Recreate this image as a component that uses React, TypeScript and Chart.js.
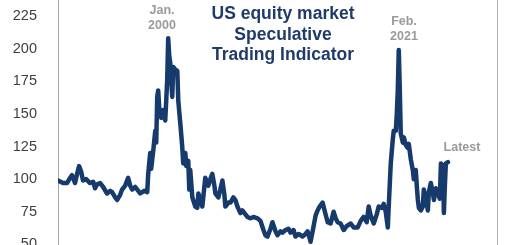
import React, { useEffect, useRef } from "react";
import Chart from "chart.js/auto";

// Decimal years and index values
const years: number[] = [
  1990.0, 1990.46, 1990.82, 1991.1, 1991.28, 1991.55, 1991.74, 1991.92, 1992.1, 1992.28,
  1992.56, 1992.92, 1993.2, 1993.38, 1993.56, 1993.84, 1994.11, 1994.47, 1994.75, 1994.93,
  1995.21, 1995.39, 1995.66, 1995.84, 1996.12, 1996.39, 1996.58, 1996.76, 1997.03, 1997.31,
  1997.49, 1997.85, 1998.13, 1998.22, 1998.4, 1998.49, 1998.68, 1998.86, 1998.95, 1999.04,
  1999.13, 1999.22, 1999.41, 1999.59, 1999.77, 1999.86, 1999.95, 2000.04, 2000.13, 2000.23,
  2000.32, 2000.41, 2000.5, 2000.68, 2000.87, 2000.96, 2001.14, 2001.32, 2001.41, 2001.6,
  2001.69, 2001.87, 2001.96, 2002.05, 2002.24, 2002.51, 2002.69, 2002.79, 2002.97, 2003.15,
  2003.42, 2003.61, 2003.7, 2003.88, 2004.06, 2004.25, 2004.34, 2004.61, 2004.79, 2004.98,
  2005.16, 2005.25, 2005.53, 2005.71, 2005.98, 2006.16, 2006.35, 2006.62, 2006.8, 2007.08,
  2007.26, 2007.53, 2007.81, 2008.17, 2008.45, 2008.72, 2008.9, 2009.09, 2009.36, 2009.54,
  2009.82, 2010.0, 2010.27, 2010.46, 2010.73, 2011.0, 2011.19, 2011.46, 2011.64, 2011.92,
  2012.1, 2012.28, 2012.56, 2012.74, 2012.92, 2013.01, 2013.2, 2013.47, 2013.65, 2013.84,
  2014.11, 2014.29, 2014.57, 2014.84, 2015.11, 2015.3, 2015.48, 2015.75, 2016.03, 2016.3,
  2016.67, 2016.94, 2017.31, 2017.58, 2017.85, 2018.13, 2018.31, 2018.49, 2018.77, 2019.04,
  2019.22, 2019.5, 2019.68, 2019.86, 2020.05, 2020.14, 2020.32, 2020.5, 2020.59, 2020.78,
  2020.87, 2020.96, 2021.05, 2021.14, 2021.23, 2021.42, 2021.51, 2021.69, 2021.87, 2021.96,
  2022.15, 2022.33, 2022.42, 2022.6, 2022.69, 2022.79, 2022.88, 2023.06, 2023.24, 2023.33,
  2023.52, 2023.7, 2023.79, 2023.97, 2024.16, 2024.25, 2024.43, 2024.61, 2024.79, 2024.89,
  2025.07, 2025.16, 2025.25, 2025.34, 2025.53,
];

const indicator: number[] = [
  99, 97, 97, 101, 103, 97, 104, 110, 106, 99,
  100, 97, 98, 93, 96, 97, 94, 89, 91, 90,
  86, 84, 88, 92, 95, 101, 95, 92, 94, 91,
  89, 91, 90, 104, 120, 108, 122, 137, 128, 163,
  168, 155, 147, 153, 145, 160, 176, 208, 195, 189,
  175, 163, 186, 184, 183, 160, 143, 125, 112, 120,
  110, 114, 92, 107, 86, 79, 78, 89, 84, 79,
  101, 97, 95, 100, 104, 95, 89, 86, 92, 99,
  88, 79, 82, 82, 86, 84, 79, 74, 76, 73,
  71, 70, 71, 70, 68, 61, 57, 56, 62, 67,
  60, 57, 60, 59, 61, 62, 59, 61, 56, 58,
  57, 56, 58, 60, 55, 52, 60, 72, 76, 79,
  82, 76, 67, 66, 75, 70, 67, 66, 61, 64,
  66, 63, 63, 68, 71, 67, 79, 72, 66, 73,
  79, 78, 81, 75, 63, 80, 112, 130, 137, 137,
  150, 168, 199, 170, 135, 128, 132, 126, 124, 127,
  115, 107, 100, 107, 95, 84, 78, 76, 79, 92,
  85, 76, 90, 97, 89, 84, 93, 89, 85, 112,
  110, 74, 95, 112, 113,
];

const yTicks: number[] = [25, 50, 75, 100, 125, 150, 175, 200, 225];
const titleLines: string[] = ["US equity market", "Speculative", "Trading Indicator"];

const NAVY = "#173a6c";
const GREY = "#9a9a9a";
const FONT = "'Liberation Sans', Arial, sans-serif";

export default function App() {
  const ref = useRef<HTMLCanvasElement | null>(null);

  useEffect(() => {
    document.body.style.margin = "0";
    const canvas = ref.current;
    if (!canvas) return;
    const chart = new Chart(canvas, {
      type: "line",
      data: {
        datasets: [
          {
            data: years.map((y, i) => ({ x: y, y: indicator[i] })),
            borderColor: NAVY,
            borderWidth: 4.5,
            pointRadius: 0,
            tension: 0,
            borderJoinStyle: "round",
            borderCapStyle: "round",
            fill: false,
          },
        ],
      },
      options: {
        animation: false,
        responsive: false,
        layout: { padding: { left: 0, right: 23, top: 0, bottom: 0 } },
        plugins: { legend: { display: false }, tooltip: { enabled: false }, title: { display: false } },
        scales: {
          x: { type: "linear", min: 1990, max: 2030, display: false },
          y: {
            min: 25,
            max: 237.28,
            afterFit: (scale: any) => {
              scale.width = 58;
              scale.paddingTop = 0;
              scale.paddingBottom = 0;
            },
            afterBuildTicks: (scale: any) => {
              scale.ticks = yTicks.map((v) => ({ value: v }));
            },
            grid: { display: false },
            border: { display: true, color: "#a8a8a8", width: 1 },
            ticks: {
              padding: 13,
              color: "#404040",
              font: { family: FONT, size: 14.5 },
            },
          },
        },
      },
    });
    return () => chart.destroy();
  }, []);

  const ann: React.CSSProperties = {
    position: "absolute",
    color: GREY,
    fontFamily: FONT,
    fontWeight: "bold",
    fontSize: 12.5,
    lineHeight: "14.5px",
    textAlign: "center",
    width: 60,
  };

  return (
    <div style={{ position: "relative", width: 520, height: 245, overflow: "hidden", background: "#fff" }}>
      <canvas ref={ref} width={520} height={277} style={{ position: "absolute", left: 0, top: 0 }} />
      <div
        style={{
          position: "absolute",
          left: 183,
          top: 3,
          width: 200,
          textAlign: "center",
          color: "#1f3b6b",
          fontFamily: FONT,
          fontWeight: "bold",
          fontSize: 17.5,
          lineHeight: "20.5px",
        }}
      >
        {titleLines.map((t) => (
          <div key={t}>{t}</div>
        ))}
      </div>
      <div style={{ ...ann, left: 132, top: 3 }}>
        <div>Jan.</div>
        <div>2000</div>
      </div>
      <div style={{ ...ann, left: 374, top: 14 }}>
        <div>Feb.</div>
        <div>2021</div>
      </div>
      <div style={{ ...ann, left: 432, top: 140 }}>Latest</div>
      <div style={{ position: "absolute", left: 497, top: 0, width: 1, height: 245, background: "#b0b0b0" }} />
    </div>
  );
}
